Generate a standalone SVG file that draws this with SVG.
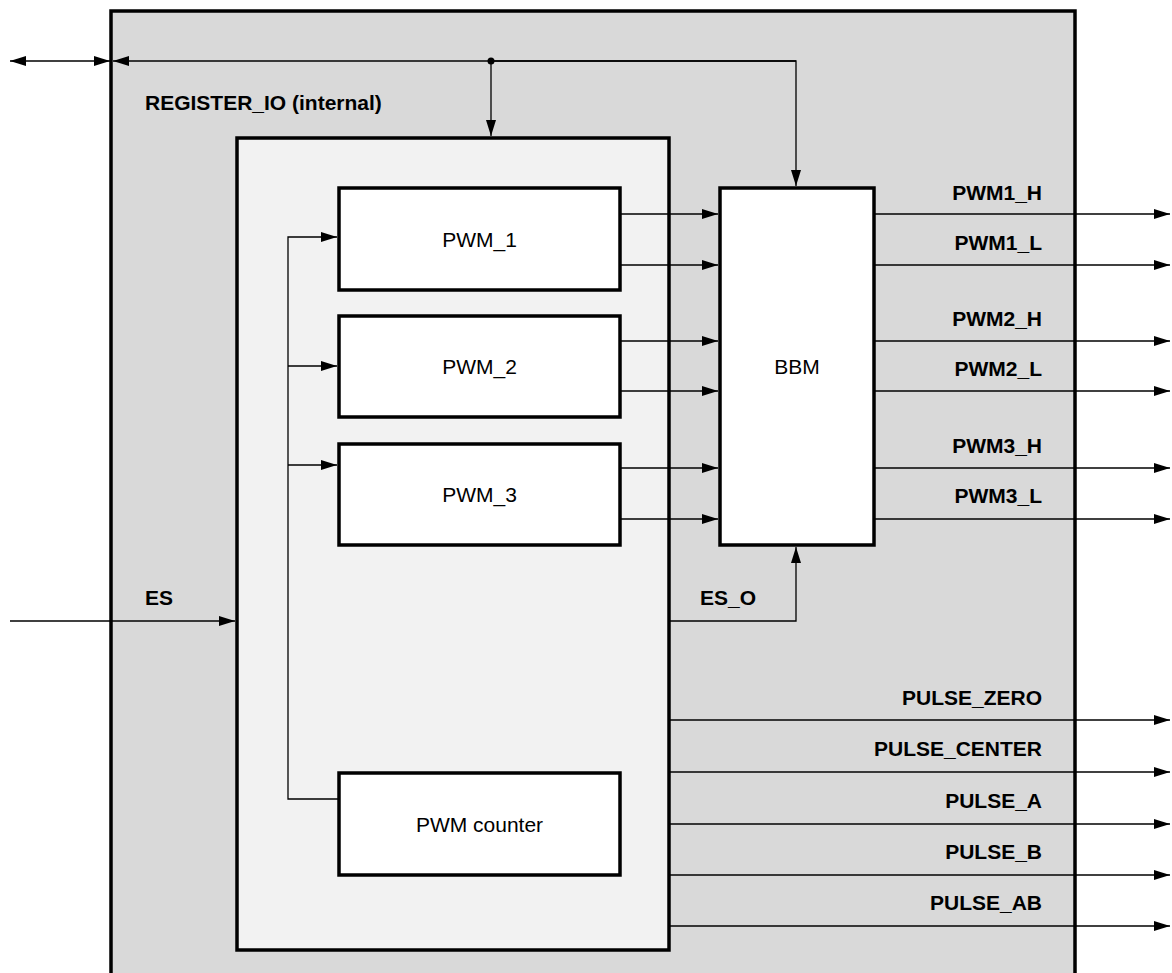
<svg xmlns="http://www.w3.org/2000/svg" width="1172" height="973" viewBox="0 0 1172 973">
<style>
.blk{stroke:#000;stroke-width:3.5}
.ln{fill:none;stroke:#000;stroke-width:1.3}
.t{font-family:"Liberation Sans",Arial,sans-serif;font-size:21px;fill:#000}
.b{font-weight:bold}
</style>
<defs>
<marker id="ah" viewBox="0 0 16 10" refX="16" refY="5" markerWidth="16" markerHeight="10" markerUnits="userSpaceOnUse" orient="auto-start-reverse">
<path d="M0,0 L16,5 L0,10 Z" fill="#000"/>
</marker>
</defs>
<rect width="1172" height="973" fill="#fff"/>
<g id="outer">
<rect class="blk" x="111" y="11" width="964" height="980" fill="#d9d9d9"/>
<text class="t b" x="145" y="110">REGISTER_IO (internal)</text>
</g>
<g id="pwm_unit">
<rect class="blk" x="237" y="138" width="432" height="812" fill="#f2f2f2"/>
</g>
<g id="pwm1">
<rect class="blk" x="339" y="188" width="281" height="102" fill="#fff"/>
<text class="t" x="479.5" y="247" text-anchor="middle">PWM_1</text>
</g>
<g id="pwm2">
<rect class="blk" x="339" y="316" width="281" height="101" fill="#fff"/>
<text class="t" x="479.5" y="374" text-anchor="middle">PWM_2</text>
</g>
<g id="pwm3">
<rect class="blk" x="339" y="444" width="281" height="101" fill="#fff"/>
<text class="t" x="479.5" y="502" text-anchor="middle">PWM_3</text>
</g>
<g id="counter">
<rect class="blk" x="339" y="773" width="281" height="102" fill="#fff"/>
<text class="t" x="479.5" y="832" text-anchor="middle">PWM counter</text>
</g>
<g id="bbm">
<rect class="blk" x="720" y="188" width="154" height="357" fill="#fff"/>
<text class="t" x="797" y="374" text-anchor="middle">BBM</text>
</g>
<g id="connectors">
<line class="ln" x1="10" y1="61" x2="110" y2="61" marker-start="url(#ah)" marker-end="url(#ah)"/>
<polyline class="ln" points="796,61 113,61" marker-end="url(#ah)"/>
<circle cx="491" cy="61" r="3.5" fill="#000"/>
<line class="ln" x1="491" y1="61" x2="491" y2="136" marker-end="url(#ah)"/>
<polyline class="ln" points="491,61 796,61 796,186" marker-end="url(#ah)"/>
<line class="ln" x1="620" y1="214" x2="718" y2="214" marker-end="url(#ah)"/>
<line class="ln" x1="620" y1="265" x2="718" y2="265" marker-end="url(#ah)"/>
<line class="ln" x1="620" y1="341" x2="718" y2="341" marker-end="url(#ah)"/>
<line class="ln" x1="620" y1="391" x2="718" y2="391" marker-end="url(#ah)"/>
<line class="ln" x1="620" y1="468" x2="718" y2="468" marker-end="url(#ah)"/>
<line class="ln" x1="620" y1="519" x2="718" y2="519" marker-end="url(#ah)"/>
<line class="ln" x1="874" y1="214" x2="1170" y2="214" marker-end="url(#ah)"/>
<line class="ln" x1="874" y1="265" x2="1170" y2="265" marker-end="url(#ah)"/>
<line class="ln" x1="874" y1="341" x2="1170" y2="341" marker-end="url(#ah)"/>
<line class="ln" x1="874" y1="391" x2="1170" y2="391" marker-end="url(#ah)"/>
<line class="ln" x1="874" y1="468" x2="1170" y2="468" marker-end="url(#ah)"/>
<line class="ln" x1="874" y1="519" x2="1170" y2="519" marker-end="url(#ah)"/>
<polyline class="ln" points="339,799 288,799 288,237 337,237" marker-end="url(#ah)"/>
<line class="ln" x1="288" y1="366" x2="337" y2="366" marker-end="url(#ah)"/>
<line class="ln" x1="288" y1="465" x2="337" y2="465" marker-end="url(#ah)"/>
<line class="ln" x1="10" y1="621" x2="235" y2="621" marker-end="url(#ah)"/>
<polyline class="ln" points="669,621 796,621 796,547" marker-end="url(#ah)"/>
<line class="ln" x1="669" y1="720" x2="1170" y2="720" marker-end="url(#ah)"/>
<line class="ln" x1="669" y1="772" x2="1170" y2="772" marker-end="url(#ah)"/>
<line class="ln" x1="669" y1="824" x2="1170" y2="824" marker-end="url(#ah)"/>
<line class="ln" x1="669" y1="875" x2="1170" y2="875" marker-end="url(#ah)"/>
<line class="ln" x1="669" y1="926" x2="1170" y2="926" marker-end="url(#ah)"/>
</g>
<g id="labels" class="t b" text-anchor="end">
<text x="1042" y="200">PWM1_H</text>
<text x="1042" y="250">PWM1_L</text>
<text x="1042" y="326">PWM2_H</text>
<text x="1042" y="376">PWM2_L</text>
<text x="1042" y="453">PWM3_H</text>
<text x="1042" y="503">PWM3_L</text>
<text x="1042" y="705">PULSE_ZERO</text>
<text x="1042" y="756">PULSE_CENTER</text>
<text x="1042" y="808">PULSE_A</text>
<text x="1042" y="859">PULSE_B</text>
<text x="1042" y="910">PULSE_AB</text>
<text x="700" y="605" text-anchor="start">ES_O</text>
<text x="145" y="605" text-anchor="start">ES</text>
</g>
</svg>
